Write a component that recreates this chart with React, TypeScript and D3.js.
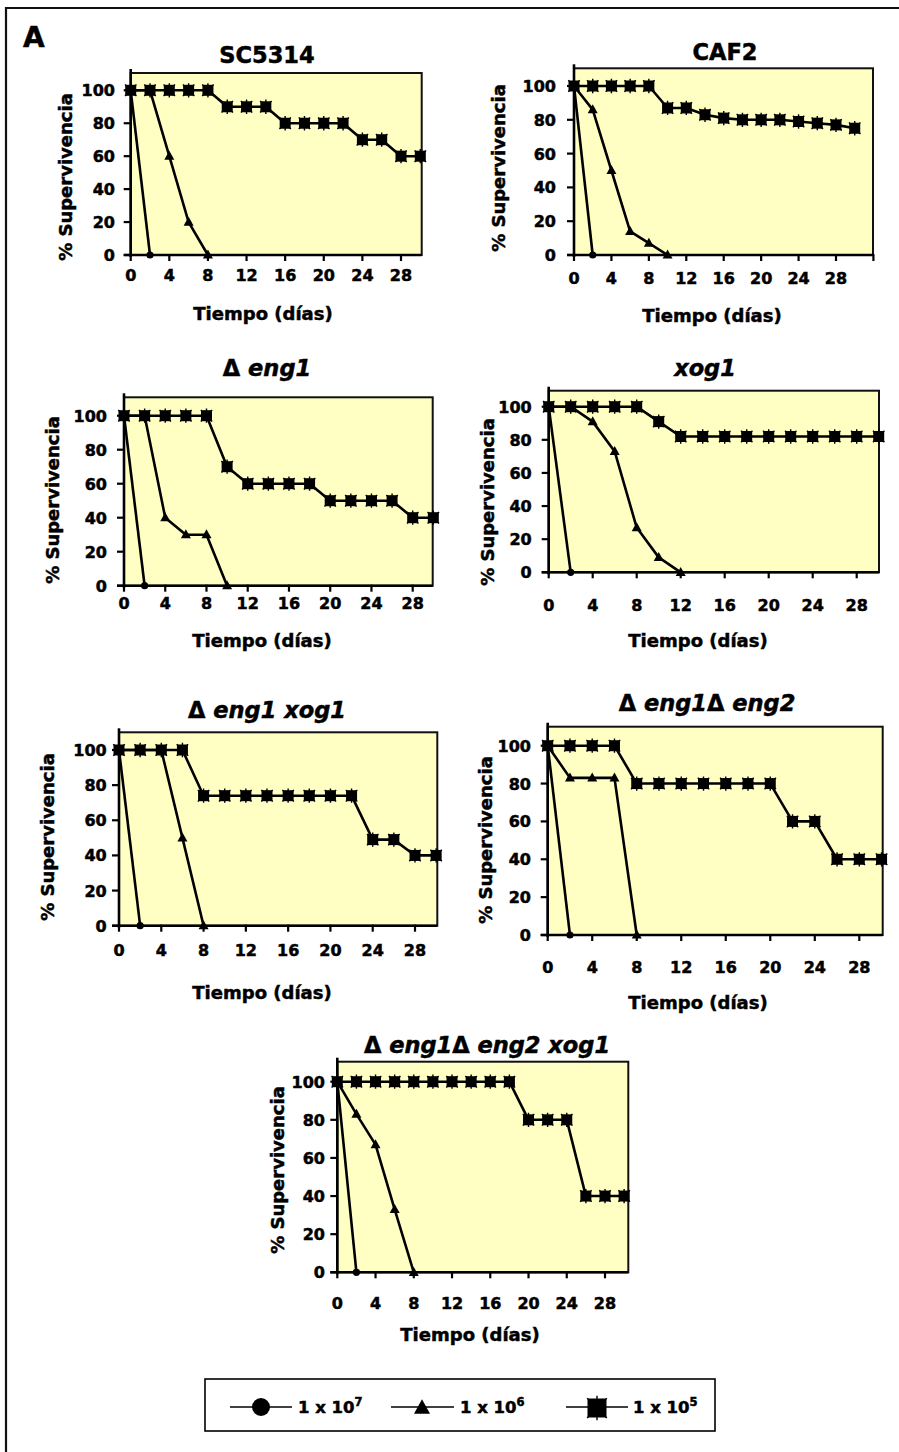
import React from 'react';
import * as d3 from 'd3';

// ---------- data ----------
const DAYS = [0, 2, 4, 6, 8, 10, 12, 14, 16, 18, 20, 22, 24, 26, 28, 30];
const X_TICKS = [0, 4, 8, 12, 16, 20, 24, 28];
const Y_TICKS = [0, 20, 40, 60, 80, 100];
const DOSES = ['7', '6', '5'];

const sc5314_e7 = [100, 0];
const sc5314_e6 = [100, 100, 60, 20, 0];
const sc5314_e5 = [100, 100, 100, 100, 100, 90, 90, 90, 80, 80, 80, 80, 70, 70, 60, 60];

const caf2_e7 = [100, 0];
const caf2_e6 = [100, 86, 50, 14, 7, 0];
const caf2_e5 = [100, 100, 100, 100, 100, 87, 87, 83, 81, 80, 80, 80, 79, 78, 77, 75];

const eng1_e7 = [100, 0];
const eng1_e6 = [100, 100, 40, 30, 30, 0];
const eng1_e5 = [100, 100, 100, 100, 100, 70, 60, 60, 60, 60, 50, 50, 50, 50, 40, 40];

const xog1_e7 = [100, 0];
const xog1_e6 = [100, 100, 91, 73, 27, 9, 0];
const xog1_e5 = [100, 100, 100, 100, 100, 91, 82, 82, 82, 82, 82, 82, 82, 82, 82, 82];

const eng1xog1_e7 = [100, 0];
const eng1xog1_e6 = [100, 100, 100, 50, 0];
const eng1xog1_e5 = [100, 100, 100, 100, 74, 74, 74, 74, 74, 74, 74, 74, 49, 49, 40, 40];

const eng1eng2_e7 = [100, 0];
const eng1eng2_e6 = [100, 83, 83, 83, 0];
const eng1eng2_e5 = [100, 100, 100, 100, 80, 80, 80, 80, 80, 80, 80, 60, 60, 40, 40, 40];

const triple_e7 = [100, 0];
const triple_e6 = [100, 83, 67, 33, 0];
const triple_e5 = [100, 100, 100, 100, 100, 100, 100, 100, 100, 100, 80, 80, 80, 40, 40, 40];

type Part = { t: string; it: boolean };

const PANELS = [
  {
    title: [{ t: 'SC5314', it: false }] as Part[],
    s: [sc5314_e7, sc5314_e6, sc5314_e5],
    L: { left: 130.7, x28: 401, right: 421.7, top: 73, bottom: 255, y100: 90.3, tX: 267, tY: 55, tickY: 275, xlX: 263, xlY: 313, ylX: 65, ylY: 177, ytR: 115, extraTick: false },
  },
  {
    title: [{ t: 'CAF2', it: false }] as Part[],
    s: [caf2_e7, caf2_e6, caf2_e5],
    L: { left: 574, x28: 836, right: 873, top: 68.3, bottom: 255, y100: 86, tX: 725, tY: 52, tickY: 278, xlX: 712, xlY: 315, ylX: 498, ylY: 168, ytR: 556, extraTick: true },
  },
  {
    title: [{ t: 'Δ', it: false }, { t: ' eng1', it: true }] as Part[],
    s: [eng1_e7, eng1_e6, eng1_e5],
    L: { left: 124, x28: 412.7, right: 432.7, top: 397.3, bottom: 585.7, y100: 415.7, tX: 267, tY: 368, tickY: 603, xlX: 262, xlY: 640, ylX: 52, ylY: 500, ytR: 107, extraTick: false },
  },
  {
    title: [{ t: 'xog1', it: true }] as Part[],
    s: [xog1_e7, xog1_e6, xog1_e5],
    L: { left: 548.7, x28: 856.7, right: 879, top: 390.7, bottom: 572.3, y100: 406.7, tX: 705, tY: 368, tickY: 605, xlX: 698, xlY: 640, ylX: 487, ylY: 502, ytR: 531.7, extraTick: false },
  },
  {
    title: [{ t: 'Δ', it: false }, { t: ' eng1 xog1', it: true }] as Part[],
    s: [eng1xog1_e7, eng1xog1_e6, eng1xog1_e5],
    L: { left: 119, x28: 415, right: 437.3, top: 732.3, bottom: 925.7, y100: 750, tX: 267, tY: 710, tickY: 950, xlX: 262, xlY: 992, ylX: 47, ylY: 837, ytR: 106.7, extraTick: false },
  },
  {
    title: [{ t: 'Δ', it: false }, { t: ' eng1', it: true }, { t: 'Δ', it: false }, { t: ' eng2', it: true }] as Part[],
    s: [eng1eng2_e7, eng1eng2_e6, eng1eng2_e5],
    L: { left: 547.7, x28: 859.3, right: 882.7, top: 726.7, bottom: 935, y100: 745.7, tX: 707, tY: 703, tickY: 967, xlX: 698, xlY: 1002, ylX: 485, ylY: 840, ytR: 531, extraTick: false },
  },
  {
    title: [{ t: 'Δ', it: false }, { t: ' eng1', it: true }, { t: 'Δ', it: false }, { t: ' eng2 xog1', it: true }] as Part[],
    s: [triple_e7, triple_e6, triple_e5],
    L: { left: 337.3, x28: 605, right: 628.3, top: 1061.7, bottom: 1272.3, y100: 1081.7, tX: 487, tY: 1045, tickY: 1303, xlX: 470, xlY: 1334, ylX: 277, ylY: 1170, ytR: 325, extraTick: false },
  },
];

const FONT = 'DejaVu Sans, Verdana, sans-serif';
const BG = '#FFFFC4';
const TS = { stroke: '#000', strokeWidth: 0.5 };

function Square({ x, y, s }: { x: number; y: number; s: number }) {
  const a = s * 0.65;
  return (
    <g>
      <path
        d={`M${x},${y - a}L${x},${y + a}M${x - a * 0.8},${y - a * 0.8}L${x + a * 0.8},${y + a * 0.8}M${x + a * 0.8},${y - a * 0.8}L${x - a * 0.8},${y + a * 0.8}`}
        stroke="#000"
        strokeWidth={1.4}
      />
      <rect x={x - s / 2} y={y - s / 2} width={s} height={s} fill="#000" />
    </g>
  );
}

function Triangle({ x, y, s }: { x: number; y: number; s: number }) {
  const h = s * 0.9;
  return <path d={`M${x},${y - h * 0.6}L${x + s / 2},${y + h * 0.4}L${x - s / 2},${y + h * 0.4}Z`} fill="#000" />;
}

function Panel({ p }: { p: (typeof PANELS)[number] }) {
  const L = p.L;
  const x = d3.scaleLinear().domain([0, 28]).range([L.left, L.x28]);
  const y = d3.scaleLinear().domain([0, 100]).range([L.bottom, L.y100]);
  const line = d3
    .line<number>()
    .x((_, i) => x(DAYS[i]))
    .y((d) => y(d));
  const ticks = L.extraTick ? [...X_TICKS, 32] : X_TICKS;
  return (
    <g>
      <rect x={L.left} y={L.top} width={L.right - L.left} height={L.bottom - L.top} fill={BG} stroke="#111" strokeWidth={2} />
      {/* axes */}
      <line x1={L.left} x2={L.left} y1={L.top - 4} y2={L.bottom + 2} stroke="#000" strokeWidth={2.6} />
      <line x1={L.left - 7} x2={L.right} y1={L.bottom} y2={L.bottom} stroke="#000" strokeWidth={2.6} />
      {Y_TICKS.map((t) => (
        <g key={'y' + t}>
          <line x1={L.left - 7} x2={L.left} y1={y(t)} y2={y(t)} stroke="#000" strokeWidth={2.2} />
          <text x={L.ytR} y={y(t) + 6} textAnchor="end" fontSize={16} fontWeight="bold" fontFamily={FONT} {...TS}>
            {t}
          </text>
        </g>
      ))}
      {ticks.map((t) => (
        <line key={'xt' + t} x1={x(t)} x2={x(t)} y1={L.bottom - 1} y2={L.bottom + 6} stroke="#000" strokeWidth={2.2} />
      ))}
      {X_TICKS.map((t) => (
        <text key={'xl' + t} x={x(t)} y={L.tickY + 6} textAnchor="middle" fontSize={16} fontWeight="bold" fontFamily={FONT} {...TS}>
          {t}
        </text>
      ))}
      {/* series */}
      {p.s.map((vals, k) => (
        <path key={'l' + k} d={line(vals) || ''} fill="none" stroke="#000" strokeWidth={2.6} strokeLinejoin="round" />
      ))}
      {p.s[0].map((v, i) => (
        <circle key={'c' + i} cx={x(DAYS[i])} cy={y(v)} r={3.6} fill="#000" />
      ))}
      {p.s[1].map((v, i) => (
        <Triangle key={'t' + i} x={x(DAYS[i])} y={y(v)} s={10} />
      ))}
      {p.s[2].map((v, i) => (
        <Square key={'s' + i} x={x(DAYS[i])} y={y(v)} s={11} />
      ))}
      {/* labels */}
      <text x={L.tX} y={L.tY + 8} textAnchor="middle" fontSize={22.5} fontWeight="bold" fontFamily={FONT} {...TS}>
        {p.title.map((pt, i) => (
          <tspan key={i} fontStyle={pt.it ? 'italic' : 'normal'}>
            {pt.t}
          </tspan>
        ))}
      </text>
      <text x={L.xlX} y={L.xlY + 6.5} textAnchor="middle" fontSize={18} fontWeight="bold" fontFamily={FONT} {...TS}>
        Tiempo (días)
      </text>
      <text
        transform={`translate(${L.ylX + 6.5},${L.ylY}) rotate(-90)`}
        textAnchor="middle"
        fontSize={18}
        fontWeight="bold"
        fontFamily={FONT}
        {...TS}
      >
        % Supervivencia
      </text>
    </g>
  );
}

function Legend() {
  const items = [
    { x1: 230, x2: 292, mx: 261, tx: 298 },
    { x1: 391, x2: 454, mx: 422, tx: 460 },
    { x1: 566, x2: 628, mx: 597, tx: 633 },
  ];
  const ly = 1407;
  return (
    <g>
      <rect x={205} y={1379} width={510} height={52} fill="#fff" stroke="#000" strokeWidth={1.6} />
      {items.map((it, k) => (
        <g key={k}>
          <line x1={it.x1} x2={it.x2} y1={ly} y2={ly} stroke="#000" strokeWidth={1.6} />
          {k === 0 && <circle cx={it.mx} cy={ly} r={9} fill="#000" />}
          {k === 1 && <Triangle x={it.mx} y={ly + 1} s={16} />}
          {k === 2 && <Square x={it.mx} y={ly + 1} s={19} />}
          <text x={it.tx} y={ly + 6} fontSize={16.5} fontWeight="bold" fontFamily={FONT} {...TS}>
            1 x 10
            <tspan fontSize={11.5} dy={-7}>
              {DOSES[k]}
            </tspan>
          </text>
        </g>
      ))}
    </g>
  );
}

export default function App() {
  return (
    <svg
      width={899}
      height={1452}
      style={{ position: 'absolute', left: 0, top: 0, background: '#fff' }}
      xmlns="http://www.w3.org/2000/svg"
    >
      <rect x={0} y={0} width={899} height={1452} fill="#fff" />
      <path d="M6,1460L6,8L905,8" fill="none" stroke="#111" strokeWidth={2.2} />
      <text x={23} y={47} fontSize={28} fontWeight="bold" fontFamily={FONT} {...TS}>
        A
      </text>
      {PANELS.map((p, i) => (
        <Panel key={i} p={p} />
      ))}
      <Legend />
    </svg>
  );
}
